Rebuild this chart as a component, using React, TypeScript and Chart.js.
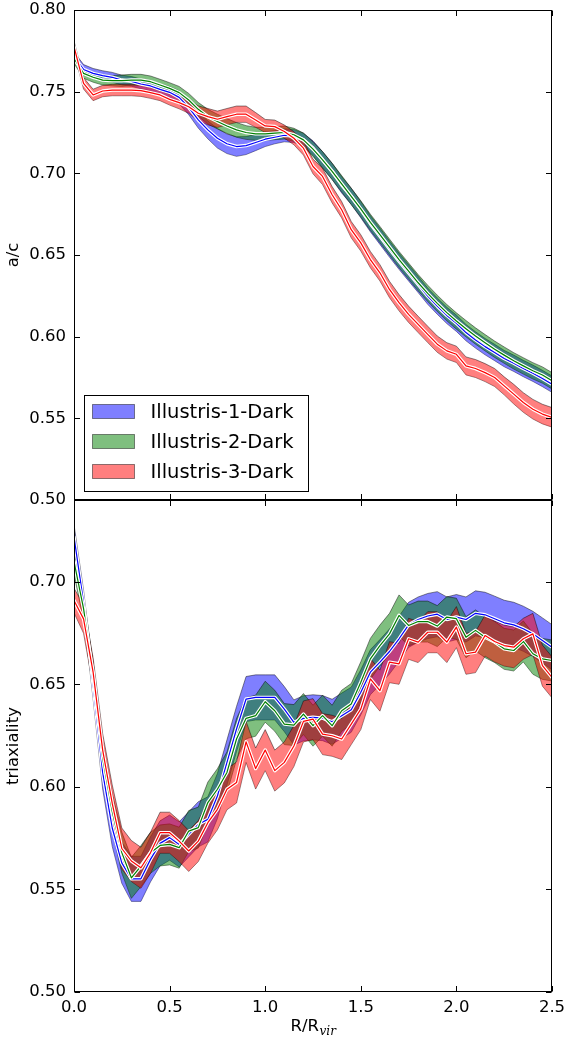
import React, { useEffect, useRef } from 'react';
import { Chart, registerables } from 'chart.js';
Chart.register(...registerables);

// x grid (R/R_vir)
const X = [0, 0.05, 0.1, 0.15, 0.2, 0.25, 0.3, 0.35, 0.4, 0.45, 0.5, 0.55, 0.6, 0.65, 0.7, 0.75, 0.8, 0.85, 0.9, 0.95, 1.0,
  1.05, 1.1, 1.15, 1.2, 1.25, 1.3, 1.35, 1.4, 1.45, 1.5, 1.55, 1.6, 1.65, 1.7, 1.75, 1.8, 1.85, 1.9, 1.95, 2.0,
  2.05, 2.1, 2.15, 2.2, 2.25, 2.3, 2.35, 2.4, 2.45, 2.5];

const SERIES = ['Illustris-1-Dark', 'Illustris-2-Dark', 'Illustris-3-Dark'];

// ---- top panel: a/c ----
const AC_MEAN_1 = [0.7714, 0.7636, 0.7612, 0.7598, 0.7588, 0.7571, 0.7563, 0.7547, 0.7535, 0.7514, 0.7496,
  0.7465, 0.7404, 0.7327, 0.7266, 0.7215, 0.7181, 0.7164, 0.7170, 0.7189, 0.7209,
  0.7221, 0.7233, 0.7229, 0.7205, 0.7154, 0.7083, 0.7012, 0.6930, 0.6859, 0.6778,
  0.6692, 0.6615, 0.6537, 0.6462, 0.6391, 0.6320, 0.6248, 0.6187, 0.6130, 0.6082,
  0.6025, 0.5980, 0.5939, 0.5903, 0.5866, 0.5837, 0.5805, 0.5776, 0.5744, 0.5709];
const AC_ERR_1 = [0.003, 0.003, 0.003, 0.003, 0.003, 0.003, 0.003, 0.003, 0.003, 0.0035, 0.0035,
  0.004, 0.0045, 0.005, 0.0055, 0.006, 0.006, 0.006, 0.0055, 0.005, 0.0045,
  0.004, 0.004, 0.004, 0.004, 0.0045, 0.005, 0.005, 0.005, 0.005, 0.005,
  0.005, 0.005, 0.005, 0.005, 0.005, 0.005, 0.005, 0.005, 0.005, 0.005,
  0.005, 0.005, 0.005, 0.005, 0.005, 0.005, 0.005, 0.005, 0.005, 0.005];
const AC_MEAN_2 = [0.7703, 0.7612, 0.7588, 0.7571, 0.7567, 0.7567, 0.7571, 0.7571, 0.7561, 0.7541, 0.7520,
  0.7494, 0.7449, 0.7392, 0.7347, 0.7317, 0.7290, 0.7266, 0.7250, 0.7242, 0.7242,
  0.7246, 0.7250, 0.7236, 0.7205, 0.7148, 0.7083, 0.7012, 0.6936, 0.6859, 0.6782,
  0.6700, 0.6625, 0.6548, 0.6472, 0.6401, 0.6330, 0.6265, 0.6204, 0.6147, 0.6096,
  0.6049, 0.6004, 0.5963, 0.5923, 0.5887, 0.5852, 0.5821, 0.5791, 0.5765, 0.5730];
const AC_ERR_2 = [0.003, 0.003, 0.003, 0.003, 0.0032, 0.0035, 0.0035, 0.0035, 0.0035, 0.0035, 0.0035,
  0.0038, 0.004, 0.0042, 0.0045, 0.0045, 0.0045, 0.0045, 0.0042, 0.004, 0.004,
  0.004, 0.004, 0.004, 0.0042, 0.0045, 0.005, 0.005, 0.005, 0.005, 0.005,
  0.005, 0.005, 0.005, 0.005, 0.005, 0.005, 0.005, 0.005, 0.005, 0.005,
  0.005, 0.005, 0.005, 0.005, 0.005, 0.005, 0.005, 0.005, 0.005, 0.005];
const AC_MEAN_3 = [0.7775, 0.7551, 0.7480, 0.7504, 0.7510, 0.7510, 0.7510, 0.7506, 0.7494, 0.7480, 0.7453,
  0.7433, 0.7408, 0.7368, 0.7347, 0.7331, 0.7347, 0.7362, 0.7362, 0.7327, 0.7290,
  0.7286, 0.7256, 0.7215, 0.7154, 0.7042, 0.6981, 0.6869, 0.6777, 0.6655, 0.6574,
  0.6472, 0.6391, 0.6289, 0.6208, 0.6137, 0.6075, 0.6014, 0.5954, 0.5913, 0.5892,
  0.5821, 0.5805, 0.5780, 0.5750, 0.5699, 0.5648, 0.5597, 0.5556, 0.5526, 0.5506];
const AC_ERR_3 = [0.0035, 0.0035, 0.0035, 0.0035, 0.0035, 0.0035, 0.0035, 0.0035, 0.0035, 0.0035, 0.0035,
  0.0038, 0.004, 0.0045, 0.005, 0.005, 0.005, 0.005, 0.005, 0.0045, 0.004,
  0.004, 0.004, 0.004, 0.0042, 0.0045, 0.005, 0.005, 0.005, 0.005, 0.005,
  0.005, 0.005, 0.005, 0.005, 0.005, 0.005, 0.005, 0.005, 0.005, 0.005,
  0.0055, 0.0055, 0.0055, 0.0055, 0.0055, 0.006, 0.006, 0.006, 0.006, 0.006];

// ---- bottom panel: triaxiality ----
const TX_MEAN_1 = [0.7220, 0.6900, 0.6500, 0.6070, 0.5800, 0.5630, 0.5552, 0.5552, 0.5647, 0.5725, 0.5753,
  0.5720, 0.5769, 0.5818, 0.5842, 0.5956, 0.6120, 0.6283, 0.6429, 0.6437, 0.6437,
  0.6437, 0.6380, 0.6315, 0.6335, 0.6340, 0.6336, 0.6318, 0.6348, 0.6377, 0.6462,
  0.6560, 0.6609, 0.6661, 0.6723, 0.6791, 0.6817, 0.6834, 0.6843, 0.6817, 0.6829,
  0.6817, 0.6847, 0.6840, 0.6821, 0.6801, 0.6791, 0.6772, 0.6747, 0.6715, 0.6682];
const TX_ERR_1 = [0.006, 0.006, 0.007, 0.008, 0.009, 0.010, 0.011, 0.011, 0.011, 0.011, 0.011,
  0.011, 0.011, 0.011, 0.011, 0.011, 0.011, 0.011, 0.011, 0.011, 0.011,
  0.011, 0.011, 0.011, 0.011, 0.011, 0.011, 0.011, 0.011, 0.011, 0.011,
  0.011, 0.011, 0.011, 0.011, 0.011, 0.011, 0.011, 0.011, 0.011, 0.011,
  0.011, 0.011, 0.011, 0.011, 0.011, 0.011, 0.011, 0.011, 0.011, 0.011];
const TX_MEAN_2 = [0.7100, 0.6870, 0.6540, 0.6140, 0.5880, 0.5680, 0.5557, 0.5614, 0.5679, 0.5715, 0.5720,
  0.5704, 0.5785, 0.5802, 0.5924, 0.5989, 0.6071, 0.6234, 0.6335, 0.6348, 0.6416,
  0.6372, 0.6307, 0.6302, 0.6356, 0.6299, 0.6348, 0.6299, 0.6372, 0.6405, 0.6511,
  0.6625, 0.6690, 0.6747, 0.6837, 0.6788, 0.6807, 0.6807, 0.6785, 0.6829, 0.6821,
  0.6731, 0.6764, 0.6731, 0.6707, 0.6674, 0.6666, 0.6710, 0.6650, 0.6625, 0.6617];
const TX_ERR_2 = [0.006, 0.006, 0.007, 0.008, 0.009, 0.010, 0.010, 0.010, 0.010, 0.010, 0.010,
  0.010, 0.010, 0.010, 0.010, 0.010, 0.010, 0.010, 0.010, 0.010, 0.010,
  0.010, 0.010, 0.010, 0.010, 0.010, 0.010, 0.010, 0.010, 0.010, 0.010,
  0.010, 0.010, 0.010, 0.010, 0.010, 0.010, 0.010, 0.010, 0.010, 0.010,
  0.010, 0.010, 0.010, 0.010, 0.010, 0.010, 0.010, 0.010, 0.010, 0.010];
const TX_MEAN_3 = [0.6910, 0.6820, 0.6560, 0.6180, 0.5920, 0.5700, 0.5639, 0.5606, 0.5679, 0.5777, 0.5777,
  0.5736, 0.5688, 0.5736, 0.5826, 0.5891, 0.5989, 0.6022, 0.6220, 0.6090, 0.6180,
  0.6080, 0.6120, 0.6200, 0.6320, 0.6331, 0.6258, 0.6250, 0.6234, 0.6307, 0.6380,
  0.6527, 0.6470, 0.6609, 0.6601, 0.6723, 0.6707, 0.6755, 0.6755, 0.6707, 0.6780,
  0.6650, 0.6658, 0.6739, 0.6710, 0.6690, 0.6682, 0.6723, 0.6747, 0.6592, 0.6535];
const TX_ERR_3 = [0.006, 0.007, 0.007, 0.008, 0.009, 0.010, 0.010, 0.010, 0.010, 0.010, 0.010,
  0.010, 0.010, 0.010, 0.010, 0.010, 0.010, 0.010, 0.010, 0.010, 0.010,
  0.010, 0.010, 0.010, 0.010, 0.010, 0.010, 0.010, 0.010, 0.010, 0.010,
  0.010, 0.010, 0.010, 0.010, 0.010, 0.010, 0.010, 0.010, 0.010, 0.010,
  0.010, 0.010, 0.010, 0.010, 0.010, 0.010, 0.010, 0.010, 0.010, 0.010];

const RGB = ['0,0,255', '0,128,0', '255,0,0'];
const EDGE = 'rgba(0,0,0,0.45)';
const FONT = '"DejaVu Sans", "Bitstream Vera Sans", sans-serif';

function buildDatasets(means: number[][], errs: number[][]) {
  const ds: any[] = [];
  means.forEach((m, s) => {
    ds.push({
      label: SERIES[s] + ' lower', data: X.map((x, i) => ({ x, y: m[i] - errs[s][i] })),
      borderColor: EDGE, borderWidth: 1, pointRadius: 0, fill: false, order: 101 - s * 10,
    });
    ds.push({
      label: SERIES[s], data: X.map((x, i) => ({ x, y: m[i] + errs[s][i] })),
      borderColor: EDGE, borderWidth: 1, pointRadius: 0, fill: '-1',
      backgroundColor: `rgba(${RGB[s]},0.5)`, order: 100 - s * 10,
    });
  });
  means.forEach((m, s) => {
    const c = X.map((x, i) => ({ x, y: m[i] }));
    ds.push({ label: SERIES[s] + ' halo', data: c, borderColor: '#ffffff', borderWidth: 3.5, pointRadius: 0, fill: false,
      borderJoinStyle: 'round', borderCapStyle: 'round', order: 10 - s * 2 });
    ds.push({ label: SERIES[s] + ' mean', data: c, borderColor: `rgb(${RGB[s]})`, borderWidth: 1.2, pointRadius: 0, fill: false,
      borderJoinStyle: 'round', order: 9 - s * 2 });
  });
  return ds;
}

const frameTicks = {
  id: 'frameTicks',
  afterDraw(chart: any) {
    const { ctx, chartArea } = chart;
    const L = Math.round(chartArea.left) + 0.5, R = Math.round(chartArea.right) - 0.5;
    const T = Math.round(chartArea.top) + 0.5, B = Math.round(chartArea.bottom) - 0.5;
    const xs = chart.scales.x, ys = chart.scales.y;
    const len = 5.5;
    ctx.save();
    ctx.strokeStyle = '#000';
    ctx.lineWidth = 1;
    ctx.beginPath();
    xs.ticks.forEach((t: any) => {
      const px = Math.round(xs.getPixelForValue(t.value)) + 0.5;
      ctx.moveTo(px, B); ctx.lineTo(px, B - len);
      ctx.moveTo(px, T); ctx.lineTo(px, T + len);
    });
    ys.ticks.forEach((t: any) => {
      const py = Math.round(ys.getPixelForValue(t.value)) + 0.5;
      ctx.moveTo(L, py); ctx.lineTo(L + len, py);
      ctx.moveTo(R, py); ctx.lineTo(R - len, py);
    });
    ctx.stroke();
    ctx.strokeRect(L, T, R - L, B - T);
    ctx.restore();
  },
};

const legendBox = {
  id: 'legendBox',
  afterDraw(chart: any) {
    const { ctx, chartArea } = chart;
    const left = chartArea.left + 10.5, bottom = chartArea.bottom - 8.5;
    const w = 224, h = 96, top = bottom - h;
    ctx.save();
    ctx.fillStyle = '#fff';
    ctx.fillRect(left, top, w, h);
    ctx.strokeStyle = '#000';
    ctx.lineWidth = 1;
    ctx.strokeRect(left, top, w, h);
    ctx.font = `19.5px ${FONT}`;
    ctx.textBaseline = 'middle';
    ctx.textAlign = 'left';
    SERIES.forEach((name, i) => {
      const cy = top + 16 + i * 30;
      ctx.fillStyle = `rgba(${RGB[i]},0.5)`;
      ctx.fillRect(left + 8, cy - 7, 42, 14);
      ctx.strokeStyle = EDGE;
      ctx.strokeRect(left + 8, cy - 7, 42, 14);
      ctx.fillStyle = '#000';
      ctx.fillText(name, left + 66, cy + 1);
    });
    ctx.restore();
  },
};

const xTitle = {
  id: 'xTitle',
  afterDraw(chart: any) {
    const { ctx, chartArea } = chart;
    const cx = (chartArea.left + chartArea.right) / 2;
    const main = 'R/R', sub = 'vir';
    const mainFont = `16.5px ${FONT}`, subFont = 'italic 12px "DejaVu Serif", serif';
    ctx.save();
    ctx.font = mainFont; const w1 = ctx.measureText(main).width;
    ctx.font = subFont; const w2 = ctx.measureText(sub).width;
    const start = cx - (w1 + w2) / 2;
    const base = chartArea.bottom + 39;
    ctx.fillStyle = '#000';
    ctx.textAlign = 'left';
    ctx.textBaseline = 'alphabetic';
    ctx.font = mainFont; ctx.fillText(main, start, base);
    ctx.font = subFont; ctx.fillText(sub, start + w1 + 0.5, base + 3.5);
    ctx.restore();
  },
};

const keepTwentieths = (s: any) => {
  s.ticks = s.ticks.filter((t: any) => Math.abs(Math.round(t.value * 20) - t.value * 20) < 1e-6);
};

function yScale(min: number, max: number, title: string) {
  return {
    type: 'linear', min, max,
    afterBuildTicks: keepTwentieths,
    ticks: { stepSize: 0.05, padding: 8, color: '#000', font: { family: FONT, size: 16.5 },
      callback: (v: any) => Number(v).toFixed(2) },
    grid: { display: false, drawTicks: false },
    border: { display: false },
    title: { display: true, text: title, color: '#000', font: { family: FONT, size: 16.5 }, padding: { top: 4, bottom: 0 } },
    afterFit: (s: any) => { s.width = 74; s.paddingTop = 0; s.paddingBottom = 0; },
  };
}

function xScale(showLabels: boolean, height: number) {
  return {
    type: 'linear', min: 0, max: 2.5,
    ticks: { display: showLabels, stepSize: 0.5, padding: 6, color: '#000', font: { family: FONT, size: 16.5 },
      maxRotation: 0, autoSkip: false, callback: (v: any) => Number(v).toFixed(1) },
    grid: { display: false, drawTicks: false },
    border: { display: false },
    afterFit: (s: any) => { s.height = height; s.paddingLeft = 0; s.paddingRight = 0; },
  };
}

function baseOptions(scales: any) {
  return {
    responsive: false,
    maintainAspectRatio: false,
    animation: false,
    devicePixelRatio: 1,
    layout: { padding: { top: 10, right: 12, left: 0, bottom: 0 }, autoPadding: false },
    plugins: { legend: { display: false }, tooltip: { enabled: false } },
    scales,
  };
}

export default function App() {
  const topRef = useRef<HTMLCanvasElement>(null);
  const botRef = useRef<HTMLCanvasElement>(null);

  useEffect(() => {
    const top = new Chart(topRef.current as HTMLCanvasElement, {
      type: 'line',
      data: { datasets: buildDatasets([AC_MEAN_1, AC_MEAN_2, AC_MEAN_3], [AC_ERR_1, AC_ERR_2, AC_ERR_3]) },
      options: baseOptions({ x: xScale(false, 10), y: yScale(0.5, 0.8, 'a/c') }) as any,
      plugins: [frameTicks, legendBox],
    });
    const bot = new Chart(botRef.current as HTMLCanvasElement, {
      type: 'line',
      data: { datasets: buildDatasets([TX_MEAN_1, TX_MEAN_2, TX_MEAN_3], [TX_ERR_1, TX_ERR_2, TX_ERR_3]) },
      options: baseOptions({ x: xScale(true, 50), y: yScale(0.5, 0.74, 'triaxiality') }) as any,
      plugins: [frameTicks, xTitle],
    });
    return () => { top.destroy(); bot.destroy(); };
  }, []);

  return (
    <div style={{ position: 'absolute', left: 0, top: 0, width: 564, height: 1042, background: '#fff' }}>
      <canvas ref={botRef} width={564} height={552} style={{ position: 'absolute', left: 0, top: 490, width: 564, height: 552 }} />
      <canvas ref={topRef} width={564} height={510} style={{ position: 'absolute', left: 0, top: 0, width: 564, height: 510 }} />
    </div>
  );
}
